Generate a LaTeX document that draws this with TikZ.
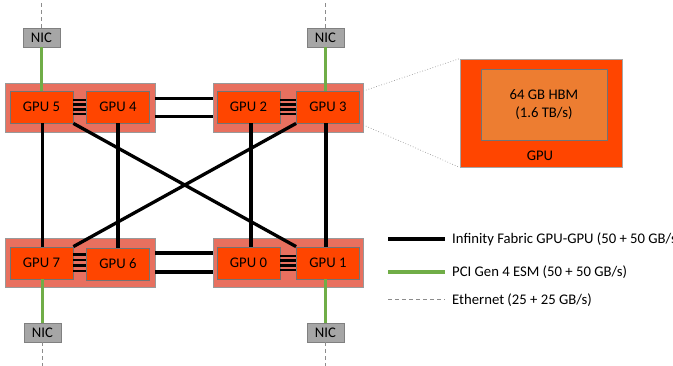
\documentclass[tikz,border=0pt]{standalone}
\usepackage{fontspec}
\setmainfont{Carlito}
\begin{document}
\begin{tikzpicture}[x=1pt,y=-1pt,
  every node/.style={font=\fontsize{14.7}{17.5}\selectfont, inner sep=0pt},
  pkg/.style={draw=black!40, fill=pkgfill, line width=0.8pt, minimum width=150pt, minimum height=49pt},
  gpubox/.style={draw=black!55, fill=gpufill, line width=0.8pt, minimum width=63pt, minimum height=32pt},
  nicbox/.style={draw=black!50, fill=nicfill, line width=0.8pt, minimum width=37pt, minimum height=19pt},
  ifl/.style={line width=3.3pt, black},
  short/.style={line width=2.6pt, black},
  pcie/.style={line width=3.2pt, pcigreen},
  eth/.style={line width=1pt, black!45, dash pattern=on 4pt off 3pt},
  zoomline/.style={line width=0.7pt, black!40, dotted}
]
\definecolor{pkgfill}{HTML}{E8705F}
\definecolor{gpufill}{HTML}{FF4500}
\definecolor{nicfill}{HTML}{A6A6A6}
\definecolor{hbmfill}{HTML}{ED7D31}
\definecolor{pcigreen}{HTML}{70AD47}
\useasboundingbox (0,0) rectangle (673,366);

% packages
\node[pkg] (p54) at (80,107.5) {};
\node[pkg] (p23) at (288,107.5) {};
\node[pkg] (p76) at (80,262.5) {};
\node[pkg] (p01) at (288,262.5) {};

% GPUs
\node[gpubox] (g5) at (41.5,107) {GPU 5};
\node[gpubox] (g4) at (118,107) {GPU 4};
\node[gpubox] (g2) at (248.5,107) {GPU 2};
\node[gpubox] (g3) at (328,107) {GPU 3};
\node[gpubox] (g7) at (41.5,263) {GPU 7};
\node[gpubox] (g6) at (118,264) {GPU 6};
\node[gpubox] (g0) at (248.5,263) {GPU 0};
\node[gpubox] (g1) at (328,263) {GPU 1};

% NICs
\node[nicbox] (n5) at (41.5,37.5) {NIC};
\node[nicbox] (n3) at (325.5,37.5) {NIC};
\node[nicbox] (n7) at (42.5,332.5) {NIC};
\node[nicbox] (n1) at (325.5,332.5) {NIC};

\coordinate (e5) at (41.5,0);
\coordinate (e3) at (325.5,0);
\coordinate (e7) at (42.5,366);
\coordinate (e1) at (325.5,366);

% ethernet
\draw[eth] (n5.north) -- (e5);
\draw[eth] (n3.north) -- (e3);
\draw[eth] (n7.south) -- (e7);
\draw[eth] (n1.south) -- (e1);

% PCIe
\draw[pcie] (n5.south) -- (n5.south |- g5.north);
\draw[pcie] (n3.south) -- (n3.south |- g3.north);
\draw[pcie] (n7.north) -- (n7.north |- g7.south);
\draw[pcie] (n1.north) -- (n1.north |- g1.south);

% intra-package short links
\foreach \s in {7,2.3,-2.3,-7}{
  \draw[short] ([yshift=\s pt]g5.east) -- ([yshift=\s pt]g4.west);
  \draw[short] ([yshift=\s pt]g2.east) -- ([yshift=\s pt]g3.west);
  \draw[short] ([yshift=\s pt]g0.east) -- ([yshift=\s pt]g1.west);
}
\foreach \s in {8.5,3,-2.5,-8}{
  \draw[short] ([yshift=\s pt]g7.east) -- ([yshift=\s pt]g7.east -| g6.west);
}

% inter-package horizontal links
\draw[ifl] ([yshift=9pt]p54.east) -- ([yshift=9pt]p23.west);
\draw[ifl] ([yshift=-9pt]p54.east) -- ([yshift=-9pt]p23.west);
\draw[ifl] ([yshift=9.5pt]p76.east) -- ([yshift=9.5pt]p01.west);
\draw[ifl] ([yshift=-9.5pt]p76.east) -- ([yshift=-9.5pt]p01.west);

% vertical links
\draw[ifl] ([xshift=1pt]g5.south) -- ([xshift=1pt]g5.south |- g7.north);
\draw[ifl] (g4.south) -- (g4.south |- g6.north);
\draw[ifl] ([xshift=2.5pt]g2.south) -- ([xshift=2.5pt]g2.south |- g0.north);
\draw[ifl] ([xshift=-2pt]g3.south) -- ([xshift=-2pt]g3.south |- g1.north);

% crossing links
\draw[ifl] (g5.south east) -- (g1.north west);
\draw[ifl] (g3.south west) -- (g7.north east);

% zoomed GPU
\node[draw=black!35, fill=gpufill, line width=0.8pt, minimum width=162pt, minimum height=108pt] (big) at (541,113) {};
\node[draw=black!55, fill=hbmfill, line width=0.8pt, minimum width=126pt, minimum height=71pt, align=center] (hbm) at (544,104.5) {64 GB HBM\\[1pt](1.6 TB/s)};
\node (biglabel) at (540,156) {GPU};
\draw[zoomline] ([yshift=16.5pt]p23.east) -- (big.north west);
\draw[zoomline] ([yshift=-17.5pt]p23.east) -- (big.south west);

% legend
\coordinate (la1) at (388,239); \coordinate (lb1) at (445,239);
\coordinate (la2) at (388,272); \coordinate (lb2) at (445,272);
\coordinate (la3) at (388,300); \coordinate (lb3) at (445,300);
\draw[ifl] (la1) -- (lb1);
\draw[pcie] (la2) -- (lb2);
\draw[eth] (la3) -- (lb3);
\node[anchor=west] (t1) at (452,239) {Infinity Fabric GPU-GPU (50 + 50 GB/s)};
\node[anchor=west] (t2) at (452,272) {PCI Gen 4 ESM (50 + 50 GB/s)};
\node[anchor=west] (t3) at (452,300) {Ethernet (25 + 25 GB/s)};
\end{tikzpicture}
\end{document}
